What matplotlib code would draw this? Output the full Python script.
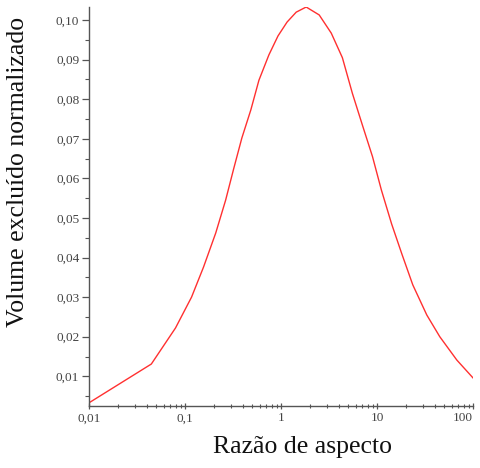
"""Volume excluído normalizado vs razão de aspecto."""

import matplotlib

matplotlib.use("Agg")
import matplotlib.pyplot as plt
from matplotlib.ticker import FixedLocator, LogLocator, MultipleLocator, NullFormatter

# values
aspect_ratio = [
    0.0100, 0.0446, 0.0796, 0.117, 0.156, 0.209, 0.265, 0.322, 0.391, 0.485,
    0.589, 0.748, 0.931, 1.157, 1.44, 1.83, 2.50, 3.34, 4.36, 5.54,
    7.04, 8.98, 11.1, 14.2, 18.1, 23.6, 33.0, 45.1, 67.9, 100.0,
]
excluded_volume = [
    0.0033, 0.0131, 0.0222, 0.0300, 0.0376, 0.0462, 0.0545, 0.0625, 0.0702, 0.0773,
    0.0848, 0.0912, 0.0960, 0.0995, 0.1020, 0.1033, 0.1013, 0.0967, 0.0905, 0.0815,
    0.0735, 0.0655, 0.0571, 0.0485, 0.0410, 0.0331, 0.0255, 0.0200, 0.0141, 0.0096,
]
x_ticks = [0.01, 0.1, 1, 10, 100]
x_tick_labels = ["0,01", "0,1", "1", "10", "100"]
y_ticks = [0.01, 0.02, 0.03, 0.04, 0.05, 0.06, 0.07, 0.08, 0.09, 0.10]
y_tick_labels = [f"{v:.2f}".replace(".", ",") for v in y_ticks]

SERIF = ["Liberation Serif", "DejaVu Serif"]

fig = plt.figure(figsize=(4.8, 4.68), dpi=100)
ax = fig.add_axes([0.1854, 0.1325, 0.80, 0.8525])

ax.plot(aspect_ratio, excluded_volume, color="#ff3030", lw=1.0)

ax.set_xscale("log")
ax.set_xlim(0.01, 100)
ax.set_ylim(0.0025, 0.1033)

ax.xaxis.set_major_locator(FixedLocator(x_ticks))
ax.set_xticklabels(x_tick_labels)
ax.xaxis.set_minor_locator(LogLocator(base=10, subs=range(2, 10)))
ax.xaxis.set_minor_formatter(NullFormatter())
ax.yaxis.set_major_locator(FixedLocator(y_ticks))
ax.set_yticklabels(y_tick_labels)
ax.yaxis.set_minor_locator(MultipleLocator(0.005))

for lab in ax.get_xticklabels() + ax.get_yticklabels():
    lab.set_family(SERIF)
    lab.set_fontsize(9.5)
    lab.set_color("#444444")
# last label sits at the right edge, nudge it inside
ax.get_xticklabels()[-1].set_horizontalalignment("right")

ax.tick_params(which="major", length=5, width=0.9, color="#555555", pad=2)
ax.tick_params(which="minor", length=3, width=0.8, color="#555555")
ax.tick_params(axis="x", which="both", direction="inout")

for side in ("top", "right"):
    ax.spines[side].set_visible(False)
for side in ("left", "bottom"):
    ax.spines[side].set_color("#555555")
    ax.spines[side].set_linewidth(1.0)

fig.text(0.631, 0.022, "Razão de aspecto", family=SERIF, fontsize=18.5,
         ha="center", va="bottom", color="#111111")
fig.text(0.038, 0.632, "Volume excluído normalizado", family=SERIF, fontsize=18.5,
         rotation=90, ha="center", va="center", color="#111111")

fig.savefig("out.png", dpi=100)
